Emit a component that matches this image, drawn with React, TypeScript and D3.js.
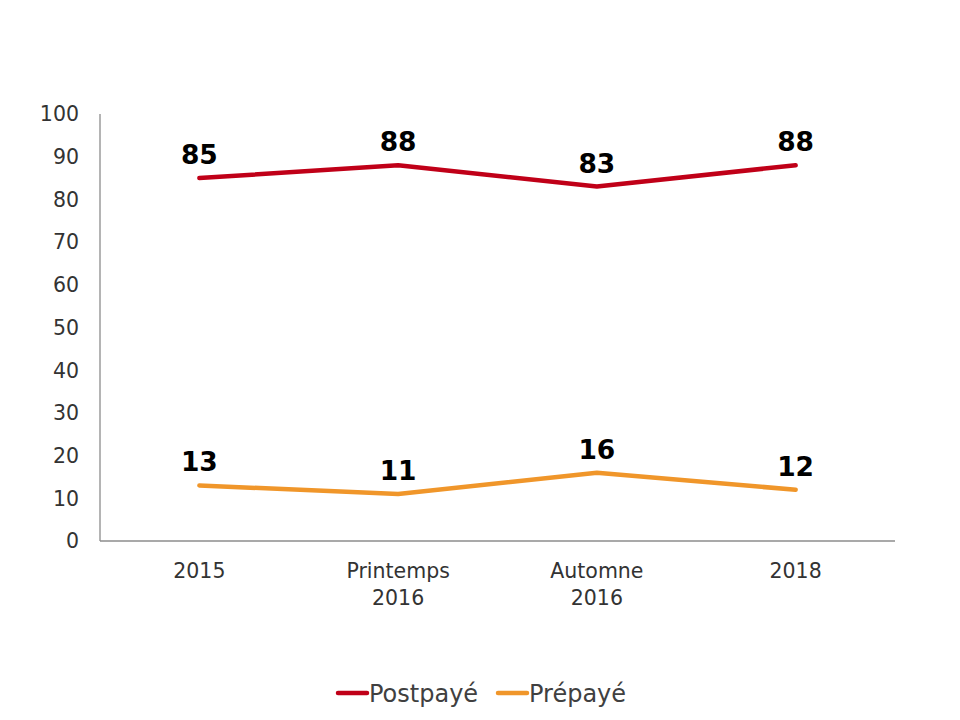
import React, { useRef, useEffect } from 'react';
import * as d3 from 'd3';

const categories = [['2015'], ['Printemps', '2016'], ['Automne', '2016'], ['2018']];
const postpaye = [85, 88, 83, 88];
const prepaye = [13, 11, 16, 12];
const yTicks = [0, 10, 20, 30, 40, 50, 60, 70, 80, 90, 100];

const series = [
    { name: 'Postpayé', values: postpaye, color: '#C00018' },
    { name: 'Prépayé', values: prepaye, color: '#F0962A' },
];

const App = () => {
    const chartRef = useRef<SVGSVGElement>(null);

    useEffect(() => {
        const width = 960;
        const height = 720;
        const left = 100, right = 895, top = 114, bottom = 541;
        const font = '"DejaVu Sans", Verdana, sans-serif';

        const svg = d3.select(chartRef.current)
            .attr('width', width)
            .attr('height', height);
        svg.selectAll('*').remove();

        svg.append('rect').attr('width', width).attr('height', height).attr('fill', '#fff');

        const x = d3.scalePoint<number>()
            .domain(categories.map((_, i) => i))
            .range([left, right])
            .padding(0.5);
        const y = d3.scaleLinear().domain([0, 100]).range([bottom, top]);

        // axes
        svg.append('line')
            .attr('x1', left).attr('x2', left)
            .attr('y1', top).attr('y2', bottom)
            .attr('stroke', '#8c8c8c').attr('stroke-width', 1.3);
        svg.append('line')
            .attr('x1', left).attr('x2', right)
            .attr('y1', bottom).attr('y2', bottom)
            .attr('stroke', '#8c8c8c').attr('stroke-width', 1.3);

        svg.append('g')
            .selectAll('text')
            .data(yTicks)
            .enter().append('text')
            .attr('x', 79)
            .attr('y', d => y(d))
            .attr('dy', '0.36em')
            .attr('text-anchor', 'end')
            .attr('font-family', font)
            .attr('font-size', 20.5)
            .attr('fill', '#333')
            .text(d => d);

        const cat = svg.append('g')
            .selectAll('text')
            .data(categories)
            .enter().append('text')
            .attr('x', (_, i) => x(i))
            .attr('y', 578)
            .attr('text-anchor', 'middle')
            .attr('font-family', font)
            .attr('font-size', 20.5)
            .attr('fill', '#333');
        cat.selectAll('tspan')
            .data(d => d)
            .enter().append('tspan')
            .attr('x', function () { return (this.parentNode as SVGTextElement).getAttribute('x'); })
            .attr('dy', (_, i) => (i === 0 ? 0 : 27))
            .text(d => d);

        const line = d3.line<number>()
            .x((_, i) => x(i)!)
            .y(d => y(d));

        series.forEach(s => {
            svg.append('path')
                .attr('d', line(s.values))
                .attr('fill', 'none')
                .attr('stroke', s.color)
                .attr('stroke-width', 4.5)
                .attr('stroke-linecap', 'round')
                .attr('stroke-linejoin', 'round');

            svg.append('g')
                .selectAll('text')
                .data(s.values)
                .enter().append('text')
                .attr('x', (_, i) => x(i))
                .attr('y', d => y(d) - 14)
                .attr('text-anchor', 'middle')
                .attr('font-family', font)
                .attr('font-size', 26.5)
                .attr('font-weight', 'bold')
                .attr('fill', '#000')
                .text(d => d);
        });

        // legend
        const legendX = [338, 498];
        series.forEach((s, i) => {
            svg.append('line')
                .attr('x1', legendX[i]).attr('x2', legendX[i] + 29)
                .attr('y1', 693).attr('y2', 693)
                .attr('stroke', s.color)
                .attr('stroke-width', 4.5)
                .attr('stroke-linecap', 'round');
            svg.append('text')
                .attr('x', legendX[i] + 31)
                .attr('y', 693)
                .attr('dy', '0.36em')
                .attr('font-family', font)
                .attr('font-size', 24)
                .attr('fill', '#404040')
                .text(s.name);
        });
    }, []);

    return (
        <svg ref={chartRef} style={{ position: 'absolute', left: 0, top: 0 }}></svg>
    );
};

export default App;
